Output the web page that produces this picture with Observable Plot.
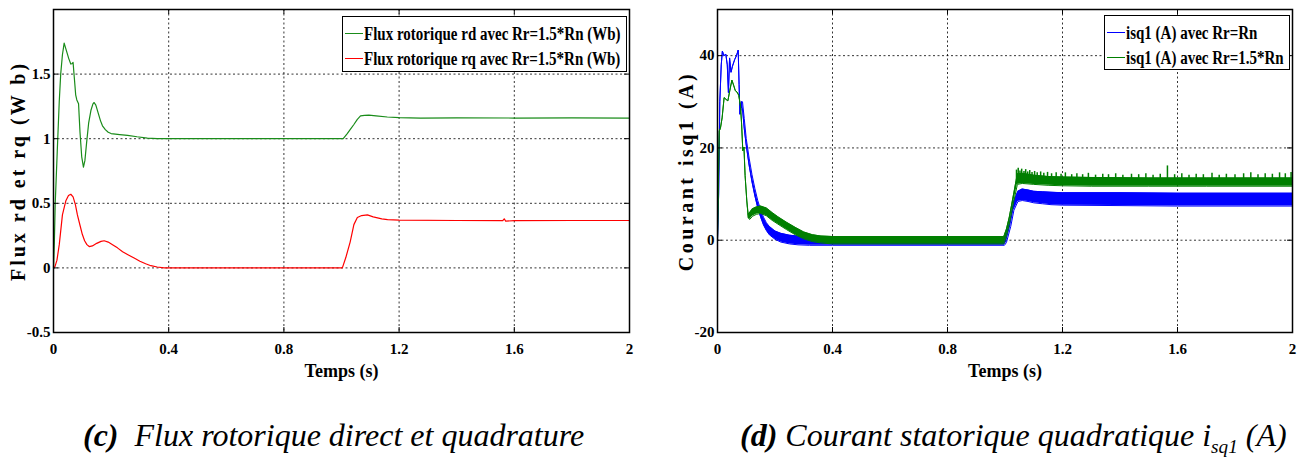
<!DOCTYPE html>
<html><head><meta charset="utf-8">
<script src="https://cdn.jsdelivr.net/npm/d3@7"></script>
<script src="https://cdn.jsdelivr.net/npm/@observablehq/plot@0.6"></script>
<style>
body{margin:0;background:#fff;width:1311px;height:459px;position:relative;overflow:hidden;font-family:"Liberation Serif","Times New Roman",serif;}
.panel{position:absolute;top:0;}
.legend{position:absolute;border:1.3px solid #000;background:#fff;box-sizing:border-box;font-weight:bold;font-size:15px;}
.legend .row{position:absolute;left:0;height:20px;white-space:nowrap;}
.legend .sw{position:absolute;width:18px;height:1.3px;top:10px;left:2px}
.legend .lab{position:absolute;left:21px;top:0;line-height:20px;display:inline-block;transform:scaleY(1.3);}
.caption{position:absolute;top:419px;font-size:32px;font-style:italic;line-height:32px;white-space:nowrap;}
</style></head><body>
<div id="left" class="panel" style="left:0"></div>
<div id="right" class="panel" style="left:656px"></div>
<div id="legL" class="legend" style="left:342px;top:16px;width:285px;height:56px"></div>
<div id="legR" class="legend" style="left:1104px;top:15px;width:186px;height:55px"></div>
<div class="caption" style="left:83px"><b>(c)</b>&nbsp; Flux rotorique direct et quadrature</div>
<div class="caption" style="left:740px"><b>(d)</b> Courant statorique quadratique i<sub style="font-size:0.6em">sq1</sub> (A)</div>
<script>
// ---------- Left chart data: rotor flux ----------
const fluxXTicks = [0, 0.4, 0.8, 1.2, 1.6, 2];
const fluxYTicks = [-0.5, 0, 0.5, 1, 1.5];
const fluxYDomain = [-0.5, 2];
const rdT = [0,0.003,0.006,0.013,0.02,0.025,0.031,0.037,0.045,0.053,0.06,0.064,0.068,0.072,0.077,0.081,0.087,0.092,0.098,0.104,0.109,0.115,0.122,0.13,0.137,0.141,0.147,0.155,0.163,0.17,0.18,0.19,0.2,0.23,0.257,0.29,0.326,0.36,0.4,0.6,0.8,1.0,1.006,1.02,1.03,1.043,1.055,1.066,1.08,1.095,1.12,1.159,1.2,1.275,1.4,1.6,1.8,2.0];
const rd  = [0,0.2,0.5,0.9,1.29,1.5,1.65,1.74,1.68,1.62,1.578,1.58,1.59,1.48,1.34,1.3,1.27,1.05,0.86,0.78,0.83,0.97,1.12,1.22,1.27,1.28,1.26,1.2,1.14,1.1,1.07,1.05,1.04,1.032,1.026,1.015,1.005,1.001,1,1,1,1,1.0,1.04,1.07,1.11,1.15,1.176,1.181,1.182,1.176,1.168,1.163,1.16,1.161,1.16,1.161,1.16];
const rqT = [0,0.005,0.012,0.02,0.031,0.043,0.052,0.06,0.068,0.076,0.083,0.092,0.1,0.108,0.116,0.124,0.135,0.15,0.165,0.176,0.19,0.205,0.222,0.24,0.26,0.28,0.3,0.32,0.338,0.36,0.384,0.4,0.6,0.8,1.0,1.003,1.015,1.03,1.043,1.055,1.07,1.09,1.11,1.14,1.16,1.2,1.4,1.56,1.565,1.57,1.6,1.8,2.0];
const rq  = [0,0.01,0.06,0.18,0.41,0.52,0.56,0.57,0.55,0.49,0.41,0.33,0.26,0.21,0.18,0.165,0.17,0.19,0.205,0.21,0.2,0.18,0.155,0.125,0.1,0.076,0.052,0.032,0.017,0.007,0,0,0,0,0,0,0.08,0.2,0.335,0.39,0.405,0.41,0.395,0.38,0.374,0.37,0.367,0.366,0.38,0.362,0.366,0.367,0.367];

// ---------- Right chart data: stator current isq1 (envelopes of the noisy band) ----------
const curXTicks = [0, 0.4, 0.8, 1.2, 1.6, 2];
const curYTicks = [-20, 0, 20, 40];
const curYDomain = [-20, 50];
const blueT  = [0,0.004,0.008,0.013,0.017,0.022,0.029,0.034,0.038,0.042,0.047,0.052,0.06,0.066,0.072,0.075,0.078,0.083,0.087,0.093,0.1,0.11,0.12,0.13,0.14,0.15,0.16,0.17,0.18,0.2,0.22,0.25,0.28,0.32,0.36,0.4,0.6,0.8,0.998,1.005,1.02,1.031,1.045,1.06,1.08,1.1,1.13,1.16,1.2,1.4,1.6,1.8,2.0];
const blueLo = [0,10,30,38,41,40,40.3,38,32,39.5,36.4,37.7,39.2,40,41.2,33.8,27.3,28.5,28.5,24.2,20.5,16.2,12.6,9.6,7,5,3.3,2.1,1.2,0.2,-0.4,-0.8,-1,-1.1,-1.1,-1.1,-1.1,-1.1,-1.1,-0.5,3,6.5,8.4,8.6,8.4,8.1,7.9,7.7,7.6,7.5,7.4,7.4,7.4];
const blueHi = [0,10,30,38,41,40,40.3,38,32,39.5,36.4,37.7,39.2,40,41.2,33.8,27.3,30,30,26.4,22,17.8,14.2,11.2,8.6,6.6,5,3.8,3.0,2.0,1.5,1.1,0.9,0.8,0.8,0.8,0.8,0.8,0.8,1.2,5,8.5,10.6,11.1,10.9,10.6,10.5,10.4,10.3,10.3,10.2,10.2,10.2];
const greenT  = [0,0.003,0.006,0.01,0.016,0.023,0.03,0.036,0.043,0.05,0.056,0.062,0.068,0.074,0.08,0.084,0.088,0.092,0.096,0.102,0.107,0.112,0.122,0.135,0.15,0.17,0.19,0.21,0.24,0.27,0.3,0.33,0.36,0.4,0.6,0.8,0.996,1.005,1.015,1.031,1.043,1.06,1.08,1.1,1.15,1.2,1.3,1.5,1.7,2.0];
const greenLo = [0,12,23.7,24.2,26.5,30.9,30.5,30.2,32.5,34.7,33.6,32.4,32.1,31.4,29,25,19.4,20.2,14,8.5,4.8,4.5,5.2,5.6,5.8,5.3,4.3,3.5,2.3,1.2,0.3,-0.3,-0.6,-0.8,-0.8,-0.8,-0.8,0.8,3.5,8.5,12.1,12.3,12.2,12.1,11.9,11.8,11.7,11.7,11.7,11.7];
const greenHi = [0,12,23.7,24.2,26.5,30.9,30.5,30.2,32.5,34.7,33.6,32.4,32.1,31.4,29,25,19.4,20.2,14,8.5,5.6,6.0,6.8,7.2,7.4,7.0,6.0,5.1,3.9,2.8,1.8,1.2,0.9,0.8,0.8,0.8,0.8,2.4,5.0,10.3,14.4,14.5,14.3,14.1,13.8,13.7,13.6,13.5,13.5,13.5];
const greenSpikeT   = [1.04,1.046,1.052,1.058,1.066,1.072,1.079,1.086,1.094,1.103,1.112,1.124,1.135,1.148,1.162,1.178,1.195,1.21,1.232,1.25,1.27,1.29,1.315,1.34,1.36,1.385,1.41,1.44,1.465,1.49,1.515,1.54,1.565,1.59,1.615,1.64,1.665,1.69,1.72,1.745,1.77,1.8,1.83,1.855,1.88,1.905,1.93,1.955,1.975,1.995];
const greenSpikeTop = [15.2,15.6,15.0,15.4,14.9,15.3,14.8,15.1,14.7,14.9,14.6,14.8,14.5,14.7,14.4,14.6,14.3,14.6,14.2,14.4,14.2,14.5,14.1,14.3,14.2,14.4,14.1,14.3,14.2,14.4,14.1,14.3,16.1,14.2,14.4,14.1,14.3,14.2,14.5,14.1,14.3,14.2,14.4,14.6,14.2,14.4,14.3,14.6,14.4,14.7];
const greenSpikeLow = greenSpikeT.map(() => 13);

const legendLeft  = [["Flux rotorique rd avec Rr=1.5*Rn (Wb)", "#1a8c1a"], ["Flux rotorique rq avec Rr=1.5*Rn (Wb)", "#ff0000"]];
const legendRight = [["isq1 (A) avec Rr=Rn", "#0000ff"], ["isq1 (A) avec Rr=1.5*Rn", "#007f00"]];

const FONT = "'Liberation Serif','Times New Roman',serif";
const W = 655, H = 395, MT = 9, MB = 63;

function innerTicks(xt, yt, iw, ih, len) {
  return [
    Plot.tickX(xt, {x: d => d, insetTop: ih - len, stroke: "#000", strokeWidth: 1}),
    Plot.tickX(xt, {x: d => d, insetBottom: ih - len, stroke: "#000", strokeWidth: 1}),
    Plot.tickY(yt, {y: d => d, insetRight: iw - len, stroke: "#000", strokeWidth: 1}),
    Plot.tickY(yt, {y: d => d, insetLeft: iw - len, stroke: "#000", strokeWidth: 1})
  ];
}
function grid(xt, yt) {
  const g = {stroke: "#000", strokeOpacity: 1, strokeWidth: 0.8, strokeDasharray: "2,2.5"};
  return [Plot.gridX(xt, g), Plot.gridY(yt, g)];
}
function axes(xt, yt, xlab, ylab, ydx) {
  return [
    Plot.axisX(xt, {tickSize: 0, tickPadding: 11, fontSize: 15, tickFormat: d => String(d), label: null}),
    Plot.axisY(yt, {tickSize: 0, tickPadding: 3, fontSize: 15, tickFormat: d => String(d), label: null}),
    Plot.text([xlab], {frameAnchor: "bottom", dy: 39, fontSize: 18, lineAnchor: "middle", textAnchor: "middle", text: d => d}),
    Plot.text([ylab], {frameAnchor: "left", dx: ydx, rotate: -90, fontSize: 20, lineAnchor: "middle", textAnchor: "middle", text: d => d})
  ];
}
function spacing(svg, label, px) {
  d3.select(svg).selectAll("text").filter(function () { return this.textContent === label; })
    .attr("letter-spacing", px + "px");
}

// ---------- Left plot ----------
const ML1 = 53, MR1 = 26;
const rdData = rdT.map((t, i) => ({t, v: rd[i]}));
const rqData = rqT.map((t, i) => ({t, v: rq[i]}));
const yLab1 = "Flux rd et rq (W b)";
const p1 = Plot.plot({
  width: W, height: H, marginTop: MT, marginBottom: MB, marginLeft: ML1, marginRight: MR1,
  style: {fontFamily: FONT, fontWeight: "bold", background: "#fff", color: "#000", overflow: "visible"},
  x: {domain: [0, 2]}, y: {domain: fluxYDomain},
  marks: [
    ...grid(fluxXTicks, fluxYTicks),
    Plot.line(rdData, {x: "t", y: "v", stroke: legendLeft[0][1], strokeWidth: 1.2}),
    Plot.line(rqData, {x: "t", y: "v", stroke: legendLeft[1][1], strokeWidth: 1.2}),
    Plot.frame({stroke: "#000", strokeWidth: 1.5}),
    ...innerTicks(fluxXTicks, fluxYTicks, W - ML1 - MR1, H - MT - MB, 5),
    ...axes(fluxXTicks, fluxYTicks, "Temps (s)", yLab1, -35)
  ]
});
spacing(p1, yLab1, 3);
document.getElementById("left").appendChild(p1);

// ---------- Right plot ----------
const ML2 = 61, MR2 = 19;
const blueData = blueT.map((t, i) => ({t, lo: blueLo[i], hi: blueHi[i]}));
const greenData = greenT.map((t, i) => ({t, lo: greenLo[i], hi: greenHi[i]}));
const spikeData = greenSpikeT.map((t, i) => ({t, lo: greenSpikeLow[i], hi: greenSpikeTop[i]}));
const cB = legendRight[0][1], cG = legendRight[1][1];
const yLab2 = "Courant isq1 (A)";
const p2 = Plot.plot({
  width: W, height: H, marginTop: MT, marginBottom: MB, marginLeft: ML2, marginRight: MR2,
  style: {fontFamily: FONT, fontWeight: "bold", background: "#fff", color: "#000", overflow: "visible"},
  x: {domain: [0, 2]}, y: {domain: curYDomain},
  marks: [
    ...grid(curXTicks, curYTicks),
    Plot.areaY(blueData, {x: "t", y1: "lo", y2: "hi", fill: cB}),
    Plot.line(blueData, {x: "t", y: "lo", stroke: cB, strokeWidth: 1}),
    Plot.line(blueData, {x: "t", y: "hi", stroke: cB, strokeWidth: 1}),
    Plot.areaY(greenData, {x: "t", y1: "lo", y2: "hi", fill: cG}),
    Plot.line(greenData, {x: "t", y: "lo", stroke: cG, strokeWidth: 1}),
    Plot.line(greenData, {x: "t", y: "hi", stroke: cG, strokeWidth: 1}),
    Plot.ruleX(spikeData, {x: "t", y1: "lo", y2: "hi", stroke: cG, strokeWidth: 1.5}),
    Plot.frame({stroke: "#000", strokeWidth: 1.5}),
    ...innerTicks(curXTicks, curYTicks, W - ML2 - MR2, H - MT - MB, 5),
    ...axes(curXTicks, curYTicks, "Temps (s)", yLab2, -31)
  ]
});
spacing(p2, yLab2, 3.5);
document.getElementById("right").appendChild(p2);

// ---------- Legends ----------
function legend(id, items) {
  const box = document.getElementById(id);
  items.forEach(([label, color], i) => {
    const row = document.createElement("div");
    row.className = "row";
    row.style.top = (6 + i * 25) + "px";
    row.innerHTML = `<div class="sw" style="background:${color}"></div><span class="lab">${label}</span>`;
    box.appendChild(row);
  });
}
legend("legL", legendLeft);
legend("legR", legendRight);
</script>
</body></html>
